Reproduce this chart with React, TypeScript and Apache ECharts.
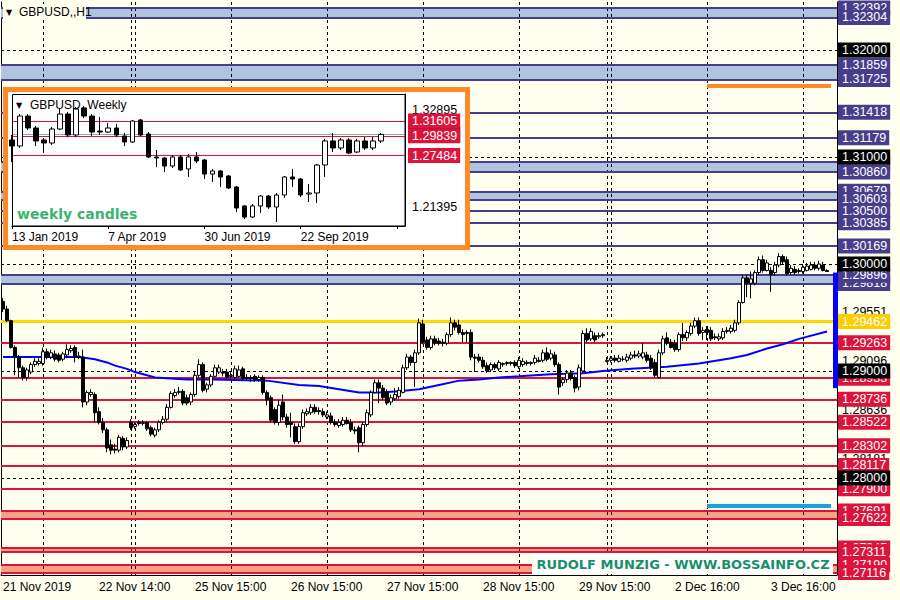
import React, { useEffect, useRef } from 'react';
import * as echarts from 'echarts';

const FONT = 'Liberation Sans';
const WFONT = 'DejaVu Sans';

// ---------- main H1 chart ----------
const tickLabels = ['21 Nov 2019', '22 Nov 14:00', '25 Nov 15:00', '26 Nov 15:00', '27 Nov 15:00', '28 Nov 15:00', '29 Nov 15:00', '2 Dec 16:00', '3 Dec 16:00'];
const barCount = 209;
const tickStep = 24;
const yMin = 1.270935;
const yMax = 1.324486;

// [open, close, low, high]
const candles: number[][] = [
  [1.2965, 1.2958, 1.2955, 1.2968], [1.2958, 1.2947, 1.2946, 1.2961], [1.2947, 1.2922, 1.2921, 1.2948], [1.2922, 1.2914, 1.2896, 1.2924],
  [1.2913, 1.2903, 1.2894, 1.2915], [1.2903, 1.2894, 1.2891, 1.2905], [1.2894, 1.2901, 1.2891, 1.2903], [1.2899, 1.2906, 1.2897, 1.2908],
  [1.2906, 1.2909, 1.2904, 1.2912], [1.2907, 1.2909, 1.2905, 1.2912], [1.2907, 1.2918, 1.2905, 1.2922], [1.2918, 1.2913, 1.2911, 1.2921],
  [1.2913, 1.2917, 1.2911, 1.2920], [1.2916, 1.2911, 1.2909, 1.2919], [1.2915, 1.2910, 1.2908, 1.2917], [1.2911, 1.2916, 1.2909, 1.2918],
  [1.2915, 1.2920, 1.2913, 1.2925], [1.2919, 1.2921, 1.2917, 1.2924], [1.2922, 1.2913, 1.2908, 1.2924], [1.2914, 1.2913, 1.2911, 1.2918],
  [1.2913, 1.2871, 1.2866, 1.2920], [1.2871, 1.2880, 1.2868, 1.2882], [1.2878, 1.2880, 1.2876, 1.2883], [1.2878, 1.2861, 1.2852, 1.2880],
  [1.2862, 1.2852, 1.2850, 1.2866], [1.2852, 1.2845, 1.2842, 1.2856], [1.2845, 1.2828, 1.2824, 1.2847], [1.2831, 1.2826, 1.2822, 1.2836],
  [1.2827, 1.2826, 1.2823, 1.2832], [1.2826, 1.2838, 1.2824, 1.2840], [1.2837, 1.2829, 1.2826, 1.2839], [1.2829, 1.2835, 1.2827, 1.2838],
  [1.2852, 1.2847, 1.2845, 1.2855], [1.2848, 1.2850, 1.2846, 1.2852], [1.2852, 1.2851, 1.2849, 1.2854], [1.2851, 1.2852, 1.2849, 1.2854],
  [1.2852, 1.2846, 1.2844, 1.2853], [1.2847, 1.2841, 1.2839, 1.2849], [1.2840, 1.2845, 1.2838, 1.2847], [1.2845, 1.2852, 1.2843, 1.2854],
  [1.2852, 1.2855, 1.2850, 1.2858], [1.2855, 1.2866, 1.2853, 1.2869], [1.2866, 1.2879, 1.2865, 1.2881], [1.2877, 1.2880, 1.2875, 1.2883],
  [1.2880, 1.2881, 1.2878, 1.2885], [1.2881, 1.2870, 1.2868, 1.2883], [1.2875, 1.2870, 1.2868, 1.2878], [1.2871, 1.2878, 1.2868, 1.2880],
  [1.2878, 1.2896, 1.2876, 1.2899], [1.2896, 1.2906, 1.2894, 1.2911], [1.2906, 1.2882, 1.2880, 1.2908], [1.2883, 1.2887, 1.2880, 1.2889],
  [1.2887, 1.2895, 1.2885, 1.2897], [1.2895, 1.2903, 1.2894, 1.2906], [1.2899, 1.2903, 1.2897, 1.2906], [1.2899, 1.2898, 1.2895, 1.2902],
  [1.2899, 1.2894, 1.2893, 1.2902], [1.2895, 1.2896, 1.2893, 1.2900], [1.2894, 1.2902, 1.2892, 1.2905], [1.2895, 1.2901, 1.2894, 1.2905],
  [1.2902, 1.2893, 1.2891, 1.2904], [1.2894, 1.2893, 1.2891, 1.2897], [1.2894, 1.2893, 1.2890, 1.2896], [1.2895, 1.2892, 1.2890, 1.2897],
  [1.2892, 1.2894, 1.2890, 1.2896], [1.2894, 1.2880, 1.2878, 1.2896], [1.2880, 1.2873, 1.2868, 1.2882], [1.2875, 1.2854, 1.2852, 1.2877],
  [1.2864, 1.2852, 1.2850, 1.2866], [1.2852, 1.2868, 1.2849, 1.2873], [1.2871, 1.2857, 1.2854, 1.2878], [1.2857, 1.2850, 1.2847, 1.2860],
  [1.2852, 1.2850, 1.2838, 1.2861], [1.2848, 1.2834, 1.2832, 1.2851], [1.2834, 1.2848, 1.2832, 1.2851], [1.2848, 1.2861, 1.2846, 1.2864],
  [1.2860, 1.2862, 1.2858, 1.2865], [1.2861, 1.2866, 1.2859, 1.2869], [1.2866, 1.2862, 1.2860, 1.2869], [1.2863, 1.2862, 1.2859, 1.2866],
  [1.2862, 1.2859, 1.2857, 1.2865], [1.2857, 1.2859, 1.2855, 1.2862], [1.2858, 1.2852, 1.2850, 1.2861], [1.2852, 1.2850, 1.2848, 1.2855],
  [1.2849, 1.2852, 1.2847, 1.2855], [1.2850, 1.2854, 1.2848, 1.2857], [1.2854, 1.2851, 1.2850, 1.2857], [1.2852, 1.2845, 1.2843, 1.2855],
  [1.2845, 1.2844, 1.2841, 1.2848], [1.2847, 1.2833, 1.2824, 1.2849], [1.2833, 1.2850, 1.2830, 1.2852], [1.2850, 1.2861, 1.2848, 1.2864],
  [1.2859, 1.2880, 1.2857, 1.2882], [1.2880, 1.2889, 1.2879, 1.2892], [1.2889, 1.2884, 1.2870, 1.2892], [1.2884, 1.2875, 1.2873, 1.2887],
  [1.2880, 1.2870, 1.2868, 1.2883], [1.2871, 1.2875, 1.2868, 1.2878], [1.2874, 1.2878, 1.2872, 1.2884], [1.2876, 1.2882, 1.2874, 1.2885],
  [1.2880, 1.2903, 1.2879, 1.2906], [1.2903, 1.2913, 1.2901, 1.2916], [1.2913, 1.2908, 1.2905, 1.2915], [1.2908, 1.2917, 1.2885, 1.2920],
  [1.2917, 1.2945, 1.2915, 1.2949], [1.2944, 1.2927, 1.2925, 1.2948], [1.2929, 1.2922, 1.2920, 1.2932], [1.2922, 1.2930, 1.2920, 1.2933],
  [1.2930, 1.2926, 1.2924, 1.2933], [1.2928, 1.2926, 1.2924, 1.2931], [1.2927, 1.2926, 1.2923, 1.2930], [1.2926, 1.2934, 1.2924, 1.2936],
  [1.2934, 1.2945, 1.2932, 1.2950], [1.2945, 1.2941, 1.2938, 1.2948], [1.2943, 1.2936, 1.2934, 1.2948], [1.2936, 1.2934, 1.2927, 1.2939],
  [1.2935, 1.2936, 1.2927, 1.2938], [1.2936, 1.2913, 1.2910, 1.2939], [1.2913, 1.2912, 1.2899, 1.2916], [1.2913, 1.2910, 1.2908, 1.2916],
  [1.2910, 1.2904, 1.2902, 1.2913], [1.2905, 1.2900, 1.2898, 1.2908], [1.2901, 1.2906, 1.2899, 1.2908], [1.2906, 1.2903, 1.2901, 1.2908],
  [1.2902, 1.2908, 1.2900, 1.2910], [1.2906, 1.2907, 1.2904, 1.2908], [1.2907, 1.2908, 1.2905, 1.2909], [1.2908, 1.2907, 1.2905, 1.2909],
  [1.2908, 1.2905, 1.2903, 1.2910], [1.2904, 1.2910, 1.2902, 1.2913], [1.2906, 1.2909, 1.2904, 1.2912], [1.2908, 1.2907, 1.2905, 1.2910],
  [1.2907, 1.2908, 1.2905, 1.2909], [1.2908, 1.2912, 1.2906, 1.2915], [1.2910, 1.2909, 1.2908, 1.2913], [1.2910, 1.2917, 1.2908, 1.2920],
  [1.2917, 1.2911, 1.2909, 1.2922], [1.2912, 1.2916, 1.2910, 1.2920], [1.2915, 1.2906, 1.2904, 1.2918], [1.2906, 1.2885, 1.2878, 1.2908],
  [1.2889, 1.2892, 1.2886, 1.2894], [1.2892, 1.2898, 1.2889, 1.2901], [1.2898, 1.2893, 1.2891, 1.2901], [1.2894, 1.2884, 1.2880, 1.2896],
  [1.2885, 1.2903, 1.2882, 1.2906], [1.2900, 1.2935, 1.2898, 1.2938], [1.2935, 1.2929, 1.2927, 1.2940], [1.2930, 1.2937, 1.2928, 1.2940],
  [1.2933, 1.2929, 1.2927, 1.2936], [1.2932, 1.2933, 1.2930, 1.2936], [1.2933, 1.2934, 1.2931, 1.2936], [1.2909, 1.2910, 1.2908, 1.2913],
  [1.2910, 1.2912, 1.2908, 1.2914], [1.2912, 1.2910, 1.2908, 1.2915], [1.2909, 1.2912, 1.2908, 1.2915], [1.2911, 1.2911, 1.2909, 1.2914],
  [1.2910, 1.2913, 1.2908, 1.2916], [1.2912, 1.2915, 1.2910, 1.2918], [1.2915, 1.2914, 1.2912, 1.2919], [1.2914, 1.2916, 1.2912, 1.2919],
  [1.2913, 1.2917, 1.2911, 1.2926], [1.2915, 1.2910, 1.2908, 1.2918], [1.2912, 1.2903, 1.2901, 1.2915], [1.2908, 1.2896, 1.2894, 1.2911],
  [1.2894, 1.2917, 1.2893, 1.2920], [1.2917, 1.2930, 1.2915, 1.2933], [1.2931, 1.2926, 1.2924, 1.2936], [1.2927, 1.2922, 1.2921, 1.2930],
  [1.2926, 1.2920, 1.2918, 1.2929], [1.2920, 1.2934, 1.2918, 1.2936], [1.2934, 1.2931, 1.2928, 1.2945], [1.2931, 1.2936, 1.2928, 1.2938],
  [1.2935, 1.2942, 1.2933, 1.2945], [1.2942, 1.2947, 1.2940, 1.2950], [1.2947, 1.2935, 1.2933, 1.2950], [1.2936, 1.2938, 1.2929, 1.2941],
  [1.2939, 1.2936, 1.2929, 1.2942], [1.2938, 1.2930, 1.2928, 1.2941], [1.2932, 1.2931, 1.2929, 1.2935], [1.2930, 1.2932, 1.2928, 1.2935],
  [1.2931, 1.2937, 1.2929, 1.2940], [1.2937, 1.2938, 1.2935, 1.2941], [1.2937, 1.2940, 1.2935, 1.2943], [1.2938, 1.2945, 1.2936, 1.2948],
  [1.2945, 1.2964, 1.2943, 1.2966], [1.2964, 1.2987, 1.2963, 1.2990], [1.2987, 1.2982, 1.2969, 1.2990], [1.2982, 1.2986, 1.2968, 1.2993],
  [1.2982, 1.2992, 1.2980, 1.2994], [1.2992, 1.3004, 1.2990, 1.3007], [1.3004, 1.2994, 1.2992, 1.3008], [1.2994, 1.3001, 1.2993, 1.3004],
  [1.2994, 1.2990, 1.2974, 1.2997], [1.2992, 1.2999, 1.2989, 1.3002], [1.2999, 1.3007, 1.2997, 1.3010], [1.3007, 1.3002, 1.3000, 1.3009],
  [1.3004, 1.2991, 1.2989, 1.3007], [1.2992, 1.2996, 1.2990, 1.2999], [1.2995, 1.2992, 1.2990, 1.2998], [1.2994, 1.2993, 1.2991, 1.2996],
  [1.2993, 1.2997, 1.2991, 1.3000], [1.2994, 1.2998, 1.2993, 1.3001], [1.2995, 1.2999, 1.2994, 1.3002], [1.2999, 1.2996, 1.2994, 1.3002],
  [1.2996, 1.3000, 1.2994, 1.3003], [1.2999, 1.2994, 1.2993, 1.3002], [1.2994, 1.2993, 1.2993, 1.2995],
];

// moving average read at these bars
const maBars = [0, 10, 19, 23, 26, 28, 31, 33, 36, 38, 42, 46, 53, 66, 74, 79, 84, 89, 94, 99, 104, 109, 114, 119, 124, 129, 137, 145, 150, 157, 166, 174, 182, 186, 191, 195, 199, 206];
const maValues = [1.2913, 1.2913, 1.2913, 1.2911, 1.2908, 1.2905, 1.2902, 1.2899, 1.2896, 1.2894, 1.2893, 1.2892, 1.2892, 1.2891, 1.2887, 1.2886, 1.2883, 1.2880, 1.2880, 1.2881, 1.2883, 1.2887, 1.2891, 1.2892, 1.2894, 1.2895, 1.2897, 1.2898, 1.2900, 1.2902, 1.2904, 1.2907, 1.2912, 1.2915, 1.2921, 1.2925, 1.2930, 1.2937];

const gridBars = [10, 32, 33, 57, 81, 105, 129, 151, 152, 176, 200];
const roundLevels = [1.32, 1.31, 1.30, 1.29, 1.28];
const scaleTicks = [1.29551, 1.29096, 1.28636, 1.28181];
const navyLevels = [1.31418, 1.31179, 1.305, 1.30385, 1.30169];
const navyBands = [[1.32392, 1.32304], [1.31859, 1.31725], [1.30953, 1.3086], [1.30679, 1.30603], [1.29896, 1.29818]];
const redLevels = [1.29263, 1.28933, 1.28736, 1.28522, 1.28302, 1.28117, 1.279];
const redBands = [[1.27691, 1.27622], [1.27345, 1.27311], [1.2719, 1.27116]];
const yellowLevels = [1.29462];
const orangeSegment = { from: 176, to: 207, value: 1.31664 };
const cyanSegment = { from: 176, to: 207, value: 1.27738 };
const blueRange = { bar: 208, high: 1.2992, low: 1.2884 };

// ---------- weekly inset ----------
const weeklyTickLabels = ['13 Jan 2019', '7 Apr 2019', '30 Jun 2019', '22 Sep 2019'];
const weeklySlots = 50;
const weeklyTickStep = 12;
const weeklyMin = 1.19135;
const weeklyMax = 1.34793;
const weeklyCandles: number[][] = [
  [1.2934, 1.2863, 1.2673, 1.2993], [1.2863, 1.3218, 1.2839, 1.3242], [1.3218, 1.3076, 1.3052, 1.3242], [1.3076, 1.2922, 1.2863, 1.3100],
  [1.2934, 1.2898, 1.2779, 1.2957], [1.2898, 1.3064, 1.2874, 1.3088], [1.3064, 1.3242, 1.3052, 1.3313], [1.3242, 1.2993, 1.2969, 1.3266],
  [1.2993, 1.3301, 1.2969, 1.3325], [1.3313, 1.3218, 1.3195, 1.3337], [1.3218, 1.3028, 1.2981, 1.3242], [1.3040, 1.3028, 1.2993, 1.3207],
  [1.3028, 1.3076, 1.3017, 1.3135], [1.3076, 1.2993, 1.2969, 1.3123], [1.2981, 1.2910, 1.2863, 1.3017], [1.2910, 1.3159, 1.2898, 1.3171],
  [1.3171, 1.2993, 1.2981, 1.3183], [1.3005, 1.2732, 1.2720, 1.3028], [1.2732, 1.2720, 1.2613, 1.2815], [1.2720, 1.2625, 1.2554, 1.2732],
  [1.2625, 1.2732, 1.2601, 1.2756], [1.2732, 1.2578, 1.2566, 1.2756], [1.2590, 1.2732, 1.2495, 1.2768], [1.2732, 1.2685, 1.2661, 1.2791],
  [1.2696, 1.2530, 1.2471, 1.2708], [1.2530, 1.2566, 1.2435, 1.2590], [1.2566, 1.2495, 1.2376, 1.2578], [1.2507, 1.2364, 1.2352, 1.2519],
  [1.2376, 1.2127, 1.2080, 1.2388], [1.2151, 1.2020, 1.1997, 1.2163], [1.2020, 1.2151, 1.2008, 1.2174], [1.2151, 1.2269, 1.2068, 1.2281],
  [1.2269, 1.2139, 1.2115, 1.2281], [1.2139, 1.2281, 1.1961, 1.2305], [1.2281, 1.2495, 1.2246, 1.2507], [1.2495, 1.2471, 1.2376, 1.2590],
  [1.2471, 1.2281, 1.2258, 1.2483], [1.2293, 1.2305, 1.2198, 1.2412], [1.2305, 1.2637, 1.2186, 1.2649], [1.2637, 1.2922, 1.2495, 1.2946],
  [1.2922, 1.2839, 1.2791, 1.3017], [1.2839, 1.2934, 1.2815, 1.2957], [1.2934, 1.2779, 1.2767, 1.2957], [1.2791, 1.2922, 1.2779, 1.2946],
  [1.2922, 1.2839, 1.2815, 1.2969], [1.2839, 1.2922, 1.2815, 1.2969], [1.2922, 1.3000, 1.2898, 1.3017],
];
const weeklyTicks = [1.32895, 1.21395];
const weeklyRedLevels = [1.31605, 1.29839, 1.27484];

// ---------- colours ----------
const NAVY = '#483D8B';
const STEEL = '#B0C4DE';
const RED = '#DC143C';
const SALMON = '#F9A283';
const GOLD = '#FFD700';
const IVORY = '#FFFFF0';
const ORANGE = '#FF8A26';
const NOLINE = { color: 'rgba(0,0,0,0)', width: 0, type: 'solid' };

const boxLabel = (v: number, bg: string, fg = '#fff', distance = 1) => ({
  show: true,
  position: 'end',
  distance,
  formatter: v.toFixed(5),
  backgroundColor: bg,
  color: fg,
  padding: [1, 3, 1, 4],
  fontSize: 12.5,
  lineHeight: 13,
  fontFamily: FONT,
  opacity: 1,
});

function buildOption() {
  const mainLines: any[] = [];
  gridBars.forEach((b) =>
    mainLines.push({ xAxis: b, lineStyle: { color: '#000', width: 1, type: [3, 3] }, label: { show: false } })
  );
  scaleTicks.forEach((v) =>
    mainLines.push({ yAxis: v, lineStyle: NOLINE, label: boxLabel(v, 'transparent', '#000') })
  );
  const navyVals = [...navyBands.flat(), ...navyLevels].sort((a, b) => b - a);
  // upper edge of the lowest band is drawn over its lower edge
  const n = navyVals.length;
  [navyVals[n - 2], navyVals[n - 1]] = [navyVals[n - 1], navyVals[n - 2]];
  navyVals.forEach((v) =>
    mainLines.push({ yAxis: v, lineStyle: { color: NAVY, width: 2, type: 'solid' }, label: boxLabel(v, NAVY) })
  );
  yellowLevels.forEach((v) =>
    mainLines.push({ yAxis: v, lineStyle: { color: GOLD, width: 3, type: 'solid' }, label: boxLabel(v, '#FFCC00') })
  );
  const redVals = [...redBands.flat(), ...redLevels].sort((a, b) => b - a);
  redVals.forEach((v) =>
    mainLines.push({ yAxis: v, lineStyle: { color: RED, width: 2, type: 'solid' }, label: boxLabel(v, RED) })
  );
  roundLevels.forEach((v) =>
    mainLines.push({ yAxis: v, lineStyle: { color: '#000', width: 1, type: [3, 3] }, label: boxLabel(v, '#000') })
  );
  const seg = (s: { from: number; to: number; value: number }, color: string) => [
    { coord: [s.from, s.value], lineStyle: { color, width: 4, type: 'solid' }, label: { show: false } },
    { coord: [s.to, s.value], lineStyle: { color, width: 4, type: 'solid' }, label: { show: false } },
  ];
  mainLines.push(seg(orangeSegment, ORANGE));
  mainLines.push(seg(cyanSegment, '#1BA1E2'));
  mainLines.push([
    { coord: [blueRange.bar, blueRange.high], lineStyle: { color: '#0000FF', width: 5, type: 'solid' }, label: { show: false } },
    { coord: [blueRange.bar, blueRange.low], lineStyle: { color: '#0000FF', width: 5, type: 'solid' }, label: { show: false } },
  ]);

  const areas: any[] = [];
  navyBands.forEach(([a, b]) => areas.push([{ yAxis: a, itemStyle: { color: STEEL } }, { yAxis: b }]));
  redBands.forEach(([a, b]) => areas.push([{ yAxis: a, itemStyle: { color: SALMON } }, { yAxis: b }]));

  const lastWeekly = weeklyCandles[weeklyCandles.length - 1][1];
  const insetLines: any[] = [];
  insetLines.push({ yAxis: lastWeekly, lineStyle: { color: '#A0A0A0', width: 1, type: 'solid' }, label: boxLabel(lastWeekly, '#000', '#fff', 3) });
  weeklyTicks.forEach((v) =>
    insetLines.push({ yAxis: v, lineStyle: NOLINE, label: boxLabel(v, 'transparent', '#000', 3) })
  );
  weeklyRedLevels.forEach((v) =>
    insetLines.push({ yAxis: v, lineStyle: { color: RED, width: 1, type: 'solid' }, label: boxLabel(v, RED, '#fff', 3) })
  );

  const candleStyle = {
    color: '#FFFFFF',
    color0: '#000000',
    borderColor: '#000000',
    borderColor0: '#000000',
    borderWidth: 1,
  };

  return {
    animation: false,
    backgroundColor: IVORY,
    textStyle: { fontFamily: FONT },
    grid: [
      { left: 1, top: 2, width: 836, bottom: 25 },
      { left: 12, top: 94, width: 393, height: 132 },
    ],
    xAxis: [
      {
        type: 'category',
        gridIndex: 0,
        data: Array.from({ length: barCount }, (_, i) => String(i)),
        boundaryGap: true,
        axisLine: { lineStyle: { color: '#000', width: 1 } },
        axisTick: { interval: tickStep - 1, alignWithLabel: true, length: 4, lineStyle: { color: '#000' } },
        axisLabel: {
          interval: tickStep - 1,
          formatter: (_v: string, idx: number) => tickLabels[idx / tickStep] ?? '',
          align: 'left',
          margin: 6,
          fontSize: 12,
          color: '#000',
          fontFamily: FONT,
        },
        splitLine: { show: false },
      },
      {
        type: 'category',
        gridIndex: 1,
        data: Array.from({ length: weeklySlots }, (_, i) => String(i)),
        boundaryGap: false,
        axisLine: { lineStyle: { color: '#000', width: 1 } },
        axisTick: { interval: weeklyTickStep - 1, length: 3, lineStyle: { color: '#000' } },
        axisLabel: {
          interval: weeklyTickStep - 1,
          formatter: (_v: string, idx: number) => weeklyTickLabels[idx / weeklyTickStep] ?? '',
          align: 'left',
          margin: 5,
          fontSize: 12,
          color: '#000',
          fontFamily: FONT,
        },
        splitLine: { show: false },
        z: 22,
      },
    ],
    yAxis: [
      {
        type: 'value', gridIndex: 0, position: 'right', min: yMin, max: yMax,
        axisLine: { show: true, lineStyle: { color: '#000' } },
        axisTick: { show: false }, axisLabel: { show: false }, splitLine: { show: false },
      },
      {
        type: 'value', gridIndex: 0, position: 'left', min: yMin, max: yMax,
        axisLine: { show: true, lineStyle: { color: '#000' } },
        axisTick: { show: false }, axisLabel: { show: false }, splitLine: { show: false },
      },
      {
        type: 'value', gridIndex: 1, position: 'right', min: weeklyMin, max: weeklyMax,
        axisLine: { show: true, lineStyle: { color: '#000' } },
        axisTick: { show: false }, axisLabel: { show: false }, splitLine: { show: false },
        z: 22,
      },
    ],
    series: [
      {
        type: 'line',
        name: 'levels',
        xAxisIndex: 0,
        yAxisIndex: 0,
        data: [],
        clip: false,
        silent: true,
        markArea: { silent: true, z: 1, data: areas },
        markLine: { silent: true, z: 2, precision: 6, symbol: ['none', 'none'], data: mainLines },
      },
      {
        type: 'line',
        name: 'MA',
        xAxisIndex: 0,
        yAxisIndex: 0,
        z: 3,
        data: maBars.map((b, i) => [b, maValues[i]]),
        showSymbol: false,
        symbol: 'none',
        lineStyle: { color: '#0000FF', width: 2 },
        silent: true,
      },
      {
        type: 'candlestick',
        name: 'GBPUSD H1',
        xAxisIndex: 0,
        yAxisIndex: 0,
        z: 4,
        barWidth: 3,
        data: candles,
        itemStyle: candleStyle,
        silent: true,
      },
      {
        type: 'candlestick',
        name: 'GBPUSD W1',
        xAxisIndex: 1,
        yAxisIndex: 2,
        z: 20,
        barWidth: 5,
        data: weeklyCandles,
        itemStyle: candleStyle,
        silent: true,
        markLine: { silent: true, z: 19, precision: 6, symbol: ['none', 'none'], data: insetLines },
      },
    ],
    graphic: [
      { type: 'rect', z: 9, shape: { x: 3, y: 4, width: 83, height: 16 }, style: { fill: IVORY } },
      { type: 'text', z: 10, x: 6, y: 12, style: { text: '▼', fill: '#000', fontSize: 8, fontFamily: WFONT, verticalAlign: 'middle' } },
      { type: 'text', z: 10, x: 19, y: 12, style: { text: 'GBPUSD,,H1', fill: '#000', fontSize: 12, fontFamily: FONT, verticalAlign: 'middle' } },
      { type: 'rect', z: 10, shape: { x: 5.5, y: 89.5, width: 462, height: 158 }, style: { fill: '#FFFFFF', stroke: ORANGE, lineWidth: 5 } },
      { type: 'rect', z: 21, shape: { x: 12.5, y: 94.5, width: 392.5, height: 131.5 }, style: { fill: 'none', stroke: '#000', lineWidth: 1 } },
      { type: 'text', z: 25, x: 16, y: 105, style: { text: '▼', fill: '#000', fontSize: 8, fontFamily: WFONT, verticalAlign: 'middle' } },
      { type: 'text', z: 25, x: 30, y: 105, style: { text: 'GBPUSD,,Weekly', fill: '#000', fontSize: 12, fontFamily: FONT, verticalAlign: 'middle' } },
      { type: 'text', z: 25, x: 17, y: 214, style: { text: 'weekly candles', fill: '#3CB371', fontSize: 14, fontWeight: 'bold', fontFamily: WFONT, verticalAlign: 'middle' } },
      { type: 'rect', z: 10, shape: { x: 532, y: 553, width: 301, height: 21 }, style: { fill: '#FFFFFF' } },
      { type: 'text', z: 11, x: 683, y: 564, style: { text: 'RUDOLF MUNZIG - WWW.BOSSAINFO.CZ', fill: '#178F6B', fontSize: 13, fontWeight: 'bold', fontFamily: WFONT, align: 'center', verticalAlign: 'middle' } },
    ],
  };
}

export default function App() {
  const ref = useRef<HTMLDivElement>(null);
  useEffect(() => {
    if (!ref.current) return;
    const chart = echarts.init(ref.current, undefined, { renderer: 'svg' });
    chart.setOption(buildOption() as any);
    return () => chart.dispose();
  }, []);
  return <div ref={ref} style={{ position: 'fixed', left: 0, top: 0, width: 900, height: 600 }} />;
}
